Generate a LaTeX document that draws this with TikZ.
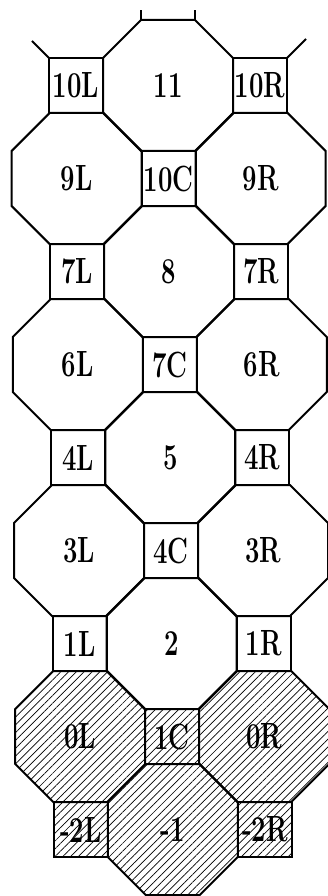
\documentclass[tikz,border=0pt]{standalone}
\usepackage{fontspec}
\usetikzlibrary{patterns.meta}

\newcommand\lbltxt[1]{\scalebox{0.95}[1.35]{#1}}

\tikzset{
  oct/.pic={\path[pic actions] (-27,-65.5) -- (27,-65.5) -- (65,-27.5) -- (65,27.5)
      -- (27,65.5) -- (-27,65.5) -- (-65,27.5) -- (-65,-27.5) -- cycle;},
  sq/.pic={\path[pic actions] (-27,-27.5) rectangle (27,27.5);}
}

\begin{document}
\begin{tikzpicture}[
  x=1pt, y=-1pt,
  every node/.style={font=\fontsize{27}{27}\selectfont\bfseries, inner sep=0pt},
  tile/.style={draw, line width=2pt, line join=miter},
  hatch/.style={tile, pattern={Lines[angle=45,distance=5.5pt,line width=0.7pt]}},
  stub/.style={line width=2pt}
]
\useasboundingbox (0,0) rectangle (328,896);

% cell centres, columns L/C/R, rows 0 (top) .. 8 (bottom)
\foreach \r in {0,...,8}{
  \foreach \c/\n in {-1/L,0/C,1/R}
    \coordinate (\n\r) at ({168+92*\c+0.6*\r},{85.5+93*\r});
}

% octagons
\foreach \p/\t in {C0/11, L1/9L, R1/9R, C2/8, L3/6L, R3/6R, C4/5, L5/3L, R5/3R, C6/2}{
  \pic[tile] at (\p) {oct};
  \node (n\p) at (\p) {\lbltxt{\t}};
}

% squares
\foreach \p/\t in {L0/10L, R0/10R, C1/10C, L2/7L, R2/7R, C3/7C, L4/4L, R4/4R, C5/4C, L6/1L, R6/1R}{
  \pic[tile] at (\p) {sq};
  \node (n\p) at (\p) {\lbltxt{\t}};
}

% hatched part
\foreach \p/\t in {L7/0L, R7/0R, C8/-1}{
  \pic[hatch] at (\p) {oct};
  \node (n\p) at (\p) {\lbltxt{\t}};
}
\foreach \p/\t in {C7/1C, L8/-2L, R8/-2R}{
  \pic[hatch] at (\p) {sq};
  \node (n\p) at (\p) {\lbltxt{\t}};
}

% cut edges at the top
\draw[stub] ([shift={(-27,-65.5)}]C0) -- ++(0,-10);
\draw[stub] ([shift={(27,-65.5)}]C0) -- ++(0,-10);
\draw[stub] ([shift={(-27,-27.5)}]L0) -- ++(-17,-17);
\draw[stub] ([shift={(27,-27.5)}]R0) -- ++(19,-19);

\end{tikzpicture}
\end{document}
